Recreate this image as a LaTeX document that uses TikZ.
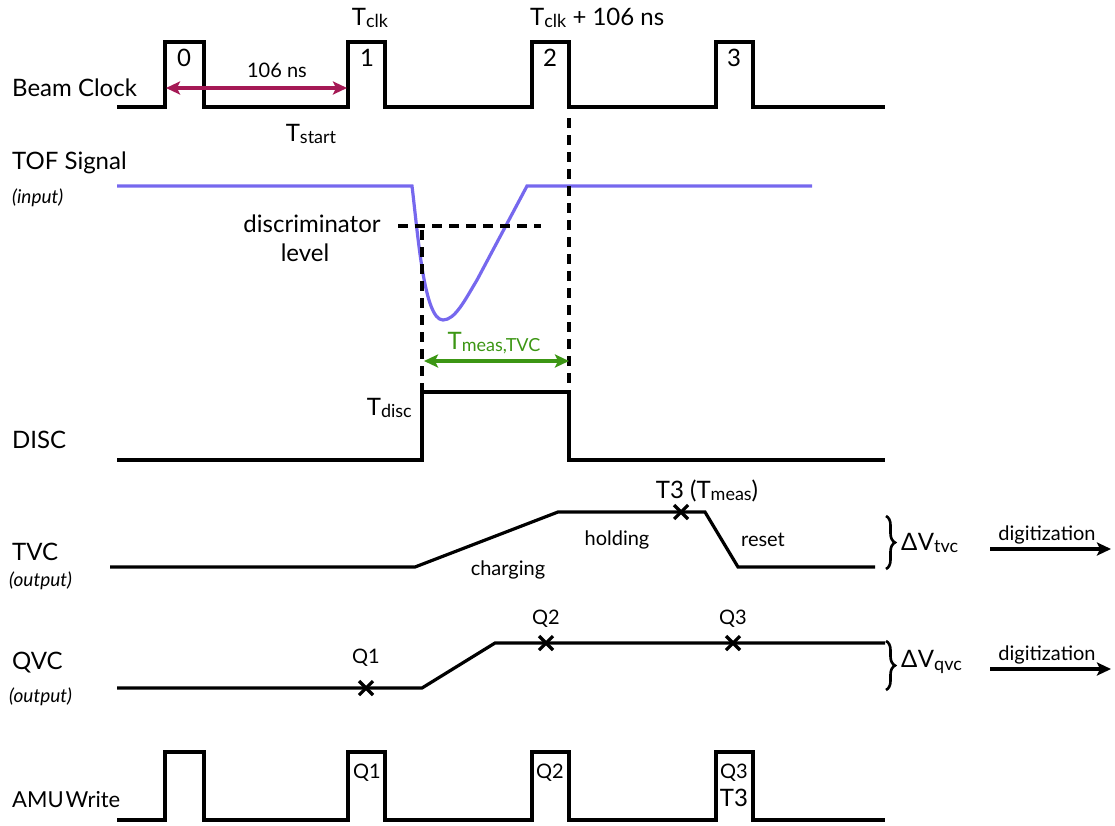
\documentclass[tikz,border=0pt]{standalone}
\usepackage{fontspec}
\setmainfont{Lato}
\usetikzlibrary{arrows.meta,decorations.pathreplacing}
\newcommand{\mysub}[1]{\raisebox{-0.2ex}{\fontsize{18}{20}\selectfont #1}}
\definecolor{sigblue}{RGB}{118,104,238}
\definecolor{arrred}{RGB}{165,25,85}
\definecolor{measgreen}{RGB}{60,150,20}
\begin{document}
\begin{tikzpicture}[x=1pt,y=-1pt,
  wave/.style={line width=3.2pt, line join=miter},
  lbl/.style={font=\fontsize{24}{28}\selectfont, inner sep=0pt},
  smalllbl/.style={font=\fontsize{20}{24}\selectfont, inner sep=0pt},
  itallbl/.style={font=\fontsize{19}{22}\selectfont\itshape, inner sep=0pt},
  dashline/.style={line width=3.2pt, dash pattern=on 10pt off 7pt},
  xmark/.style={line width=3.2pt},
  >={Stealth[length=14pt,width=13pt,inset=3pt]},
]
\useasboundingbox (0,0) rectangle (1115,825);

% ---------------- Beam Clock
\node[lbl, anchor=west] (bclab) at (12,88) {Beam Clock};
\draw[wave] (117,107) -- (165,107) -- (165,42) -- (204,42) -- (204,107) -- (348,107) -- (348,42) -- (385,42) -- (385,107) -- (532,107) -- (532,42) -- (569,42) -- (569,107) -- (716,107) -- (716,42) -- (753,42) -- (753,107) -- (885,107);
\node[lbl] (p0) at (184,58) {0};
\node[lbl] (p1) at (367,58) {1};
\node[lbl] (p2) at (550,58) {2};
\node[lbl] (p3) at (734,58) {3};
\node[lbl] (tclk) at (370,18) {T\mysub{clk}};
\node[lbl, anchor=west] (tclk2) at (530,18) {T\mysub{clk} + 106 ns};
\node[lbl] (tstart) at (311,134) {T\mysub{start}};
\node[smalllbl] (ns106) at (277,70) {106 ns};
\coordinate (ra) at (166,88);
\coordinate (rb) at (347,88);
\draw[arrred, line width=3.2pt, <->] (ra) -- (rb);

% ---------------- TOF Signal
\node[lbl, anchor=west] (toflab) at (12,163) {TOF Signal};
\node[itallbl, anchor=west] (toflab2) at (12,198) {(input)};
\draw[sigblue, line width=3.2pt] (117,186) -- (412,186) .. controls (418,235) and (424,320) .. (443,320) .. controls (455,320) and (465,300) .. (477,280) -- (527,186) -- (812,186);
\draw[dashline] (398,226) -- (541,226);
\node[lbl] (disclev) at (312,224) {discriminator};
\node[lbl] (disclev2) at (305,253) {level};
\draw[dashline] (422,230) -- (422,392);
\draw[dashline] (569,118) -- (569,392);
\node[lbl, text=measgreen] (tmeas) at (494,343) {T\mysub{meas,TVC}};
\coordinate (ga) at (424,361);
\coordinate (gb) at (569,361);
\draw[measgreen, line width=3.2pt, <->] (ga) -- (gb);

% ---------------- DISC
\node[lbl, anchor=west] (disclab) at (12,440) {DISC};
\draw[wave] (117,460) -- (422,460) -- (422,392) -- (569,392) -- (569,460) -- (885,460);
\node[lbl, anchor=east] (tdisc) at (412,408) {T\mysub{disc}};

% ---------------- TVC
\node[lbl, anchor=west] (tvclab) at (12,552) {TVC};
\node[itallbl, anchor=west] (tvclab2) at (9,581) {(output)};
\draw[wave] (110,567) -- (415,567) -- (558,512) -- (705,512) -- (738,567) -- (875,567);
\draw[xmark] (674,505) -- (688,519) (674,519) -- (688,505);
\node[lbl] (t3m) at (707,491) {T3 (T\mysub{meas})};
\node[smalllbl] (hold) at (617,540) {holding};
\node[smalllbl] (charg) at (508,570) {charging};
\node[smalllbl] (reset) at (763,540) {reset};
\draw[line width=2.6pt, decorate, decoration={brace, amplitude=9pt}] (886,516) -- (886,569);
\node[lbl, anchor=west] (dvtvc) at (901,543) {Δ\kern0.5pt V\mysub{tvc}};
\coordinate (d1a) at (990,549);
\coordinate (d1b) at (1111,549);
\draw[line width=3.2pt, ->] (d1a) -- (d1b);
\node[smalllbl] (dig1) at (1047,535) {digitization};

% ---------------- QVC
\node[lbl, anchor=west] (qvclab) at (12,663) {QVC};
\node[itallbl, anchor=west] (qvclab2) at (9,697) {(output)};
\draw[wave] (117,688) -- (422,688) -- (495,643) -- (885,643);
\draw[xmark] (359,681) -- (373,695) (359,695) -- (373,681);
\draw[xmark] (539,636) -- (553,650) (539,650) -- (553,636);
\draw[xmark] (726,636) -- (740,650) (726,650) -- (740,636);
\node[smalllbl] (q1) at (366,658) {Q1};
\node[smalllbl] (q2) at (546,619) {Q2};
\node[smalllbl] (q3) at (733,619) {Q3};
\draw[line width=2.6pt, decorate, decoration={brace, amplitude=9pt}] (886,641) -- (886,690);
\node[lbl, anchor=west] (dvqvc) at (901,662) {Δ\kern0.5pt V\mysub{qvc}};
\coordinate (d2a) at (990,669);
\coordinate (d2b) at (1111,669);
\draw[line width=3.2pt, ->] (d2a) -- (d2b);
\node[smalllbl] (dig2) at (1047,655) {digitization};

% ---------------- AMU Write
\node[lbl, anchor=west, font=\fontsize{22}{26}\selectfont] (amulab) at (12,800) {AMU\kern2pt Write};
\draw[wave] (117,820) -- (165,820) -- (165,752) -- (204,752) -- (204,820) -- (348,820) -- (348,752) -- (385,752) -- (385,820) -- (532,820) -- (532,752) -- (569,752) -- (569,820) -- (716,820) -- (716,752) -- (753,752) -- (753,820) -- (885,820);
\node[smalllbl] (a1) at (367,773) {Q1};
\node[smalllbl] (a2) at (550,773) {Q2};
\node[smalllbl] (a3) at (734,773) {Q3};
\node[lbl] (a4) at (734,798) {T3};
\end{tikzpicture}
\end{document}
